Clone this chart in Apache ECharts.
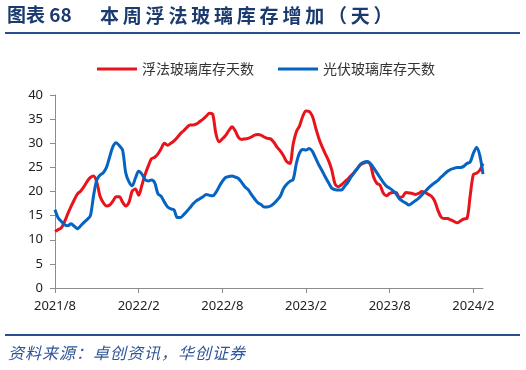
<!DOCTYPE html>
<html><head><meta charset="utf-8">
<script src="https://cdn.jsdelivr.net/npm/echarts@6/dist/echarts.min.js"></script>
<style>html,body{margin:0;padding:0;background:#fff;}#c{width:526px;height:370px;}</style>
</head><body><div id="c"></div>
<script>
var startDate = '2021-08-06';
var weekCount = 134;
var seriesNames = ['浮法玻璃库存天数', '光伏玻璃库存天数'];
var tickLabels = ['2021/8', '2022/2', '2022/8', '2023/2', '2023/8', '2024/2'];
var floatDays = [11.7,12.1,12.5,13.8,15.4,16.9,18.3,19.5,20.1,21.0,22.1,22.9,23.2,21.9,19.0,17.7,17.0,17.2,18.0,18.9,
18.9,17.8,17.0,17.8,20.1,20.5,19.2,21.3,23.5,25.3,26.8,27.1,27.8,28.9,30.0,29.6,30.0,30.5,31.2,32.0,
32.6,33.3,33.8,33.8,34.0,34.5,35.0,35.6,36.2,36.0,32.0,30.3,30.9,31.6,32.6,33.4,32.6,31.2,30.8,30.9,
31.0,31.3,31.7,31.8,31.7,31.3,31.0,30.9,30.2,29.2,28.4,27.4,26.2,25.8,29.8,32.4,33.6,35.6,36.7,36.6,
35.6,33.2,31.0,29.3,27.8,26.4,24.5,21.6,21.0,21.4,22.0,22.6,23.3,24.0,24.8,25.6,25.9,26.1,25.6,23.0,
21.7,21.3,19.7,19.1,19.6,19.8,19.8,18.8,18.9,19.8,19.7,19.6,19.4,19.6,20.0,19.8,19.4,19.0,18.0,16.1,
14.7,14.4,14.4,14.1,13.8,13.5,13.9,14.3,14.4,19.0,23.5,23.8,24.4,25.8];
var pvDays = [16.2,14.5,13.8,13.1,12.9,13.3,12.8,12.3,12.9,13.6,14.2,15.0,19.2,22.4,23.4,23.9,25.0,27.2,29.3,30.1,
29.5,28.6,23.8,22.0,21.2,22.8,24.2,23.6,22.5,22.2,22.4,21.8,19.5,19.0,17.8,16.8,16.4,16.2,14.6,14.6,
15.2,15.9,16.7,17.5,18.1,18.5,18.9,19.4,19.2,19.1,19.8,21.0,22.1,22.9,23.1,23.2,23.0,22.7,21.9,21.0,
20.4,19.4,18.5,17.7,17.3,16.8,16.8,17.0,17.5,18.2,19.0,20.6,21.5,22.1,22.5,25.8,28.0,28.7,28.6,28.9,
28.3,26.9,25.5,24.3,23.0,21.8,20.7,20.4,20.3,20.3,21.1,21.9,23.0,23.9,24.8,25.7,26.1,26.2,25.8,24.9,
23.9,22.9,21.9,21.1,20.7,20.2,19.5,18.5,18.0,17.6,17.2,17.6,18.1,18.6,19.3,20.0,20.7,21.3,21.8,22.3,
23.0,23.6,24.2,24.6,24.8,25.0,25.0,25.2,25.8,26.1,27.9,29.1,27.5,23.6];

var categories = [];
(function(){
  var d = new Date(startDate + 'T00:00:00Z');
  for (var i = 0; i < weekCount; i++) {
    var t = new Date(d.getTime() + i * 7 * 86400000);
    categories.push(t.getUTCFullYear() + '/' + (t.getUTCMonth() + 1) + '/' + t.getUTCDate());
  }
})();
function spaced(s, sep) { return s.split('').join(sep); }

var chart = echarts.init(document.getElementById('c'));
var axisColor = '#8c8c8c';
var titleColor = '#1B3A6E';
chart.setOption({
  animation: false,
  backgroundColor: '#fff',
  graphic: [
    {type: 'text', left: 7, top: 5, style: {text: '图表 68', font: 'bold 19px "Noto Sans CJK SC"', fill: titleColor}},
    {type: 'text', left: 100, top: 6, style: {text: spaced('本周浮法玻璃库存增加（天）', '\u2009'), font: 'bold 19px "Noto Sans CJK SC"', fill: titleColor}},
    {type: 'rect', shape: {x: 5, y: 32, width: 515, height: 2}, style: {fill: '#2B4F8C'}},
    {type: 'rect', shape: {x: 5, y: 334, width: 515, height: 2}, style: {fill: '#2B4F8C'}},
    {type: 'text', left: 8, top: 345, style: {text: spaced('资料来源：卓创资讯，华创证券', '\u200A'), font: 'italic 16px "Noto Sans CJK SC"', fill: '#2F5597'}}
  ],
  legend: {
    left: 97, top: 62, padding: 0,
    itemWidth: 40, itemHeight: 3, itemGap: 24,
    icon: 'rect',
    textStyle: {fontFamily: 'Noto Sans CJK SC', fontSize: 14, color: '#333'},
    data: seriesNames
  },
  grid: {left: 55, right: 43, top: 95, bottom: 82, containLabel: false},
  xAxis: {
    type: 'category',
    data: categories,
    boundaryGap: false,
    axisLine: {lineStyle: {color: axisColor}},
    axisTick: {interval: 25, length: 5, lineStyle: {color: axisColor}},
    axisLabel: {
      interval: 25, margin: 12,
      fontFamily: 'Noto Sans', fontSize: 13, color: '#222',
      formatter: function (v, idx) { var k = Math.round(idx / 26); return tickLabels[k] || ''; }
    },
    splitLine: {show: false}
  },
  yAxis: {
    type: 'value', min: 0, max: 40, interval: 5,
    axisLine: {show: true, lineStyle: {color: axisColor}},
    axisTick: {show: true, inside: false, length: 5, lineStyle: {color: axisColor}},
    axisLabel: {fontFamily: 'Noto Sans', fontSize: 13, color: '#222', margin: 12},
    splitLine: {show: false}
  },
  series: [
    {name: seriesNames[0], type: 'line', data: floatDays, smooth: 0.3, showSymbol: false,
     lineStyle: {color: '#E8141B', width: 3}, itemStyle: {color: '#E8141B'}},
    {name: seriesNames[1], type: 'line', data: pvDays, smooth: 0.3, showSymbol: false,
     lineStyle: {color: '#0563C1', width: 3}, itemStyle: {color: '#0563C1'}}
  ]
});
</script></body></html>
